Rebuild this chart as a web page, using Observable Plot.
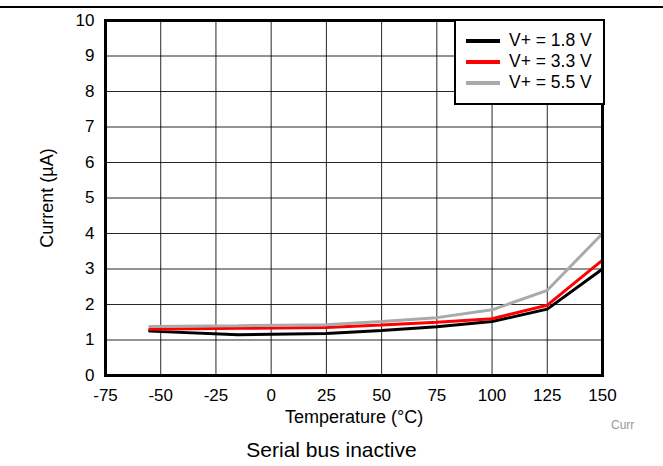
<!DOCTYPE html>
<html><head><meta charset="utf-8">
<script src="https://cdn.jsdelivr.net/npm/d3@7"></script>
<script src="https://cdn.jsdelivr.net/npm/@observablehq/plot@0.6"></script>
<style>
body{margin:0;background:#fff;font-family:"Liberation Sans",Arial,sans-serif;}
#wrap{position:relative;width:663px;height:466px;overflow:hidden;}
#wrap svg text{font-family:"Liberation Sans",Arial,sans-serif;}
#rule{position:absolute;left:0;top:6px;width:663px;height:2px;background:#000;}
#legend{position:absolute;left:454px;top:19px;width:147px;height:82px;border:2px solid #000;background:#fff;font-size:17.5px;}
.row{position:absolute;left:0;height:20px;line-height:20px;}
.sw{position:absolute;left:10px;top:9px;width:34px;height:4px;}
.lb{position:absolute;left:53px;top:0;white-space:nowrap;}
#caption{position:absolute;left:0;width:663px;top:438px;text-align:center;font-size:21px;}
#tag{position:absolute;left:611px;top:418px;font-size:12px;color:#999;}
</style></head>
<body><div id="wrap"><div id="rule"></div></div>
<script>
const temps = [-55, -15, 25, 50, 75, 100, 125, 150];
const v18 = [1.25, 1.15, 1.18, 1.27, 1.37, 1.52, 1.87, 3.0];
const v33 = [1.3, 1.33, 1.35, 1.42, 1.5, 1.6, 1.98, 3.25];
const v55 = [1.38, 1.4, 1.43, 1.52, 1.63, 1.85, 2.4, 4.0];
const seriesNames = ["V+ = 1.8 V", "V+ = 3.3 V", "V+ = 5.5 V"];
const seriesColors = ["#000000", "#ff0000", "#aaaaaa"];
const xTicks = [-75, -50, -25, 0, 25, 50, 75, 100, 125, 150];
const yTicks = [0,1,2,3,4,5,6,7,8,9,10];

const rows = [];
[v18, v33, v55].forEach((vals, i) => temps.forEach((t, j) => rows.push({t, v: vals[j], s: seriesNames[i]})));

const chart = Plot.plot({
  width: 663, height: 466,
  marginLeft: 105, marginRight: 61, marginTop: 20, marginBottom: 91,
  style: {fontFamily: "Liberation Sans, Arial, sans-serif", fontSize: "17px", color: "#000", background: "transparent"},
  x: {domain: [-75, 150], label: null},
  y: {domain: [0, 10], label: null},
  color: {domain: seriesNames, range: seriesColors},
  marks: [
    Plot.gridX(xTicks, {stroke: "#000", strokeOpacity: 0.85, strokeWidth: 1}),
    Plot.gridY(yTicks, {stroke: "#000", strokeOpacity: 0.85, strokeWidth: 1}),
    Plot.axisX(xTicks, {tickSize: 0, tickPadding: 13, fontSize: 17, label: null, tickFormat: d => String(d)}),
    Plot.axisY(yTicks, {tickSize: 0, tickPadding: 11, fontSize: 17, label: null, tickFormat: d => String(d)}),
    Plot.line(rows, {x: "t", y: "v", z: "s", stroke: "s", strokeWidth: 3, strokeLinejoin: "miter"}),
    Plot.frame({stroke: "#000", strokeWidth: 3}),
    Plot.text(["Temperature (°C)"], {frameAnchor: "bottom", lineAnchor: "middle", dy: 42, fontSize: 18, text: d => d}),
    Plot.text(["Current (µA)"], {frameAnchor: "left", textAnchor: "middle", lineAnchor: "middle", dx: -58, rotate: -90, fontSize: 18, text: d => d})
  ]
});
const wrap = document.getElementById("wrap");
wrap.insertBefore(chart, wrap.firstChild);

const leg = document.createElement("div");
leg.id = "legend";
seriesNames.forEach((n, i) => {
  const r = document.createElement("div");
  r.className = "row";
  r.style.top = (9 + i * 21) + "px";
  r.innerHTML = `<div class="sw" style="background:${seriesColors[i]}"></div><div class="lb">${n}</div>`;
  leg.appendChild(r);
});
wrap.appendChild(leg);
const cap = document.createElement("div"); cap.id = "caption"; cap.textContent = "Serial bus inactive"; wrap.appendChild(cap);
const tag = document.createElement("div"); tag.id = "tag"; tag.textContent = "Curr"; wrap.appendChild(tag);
</script></body></html>
